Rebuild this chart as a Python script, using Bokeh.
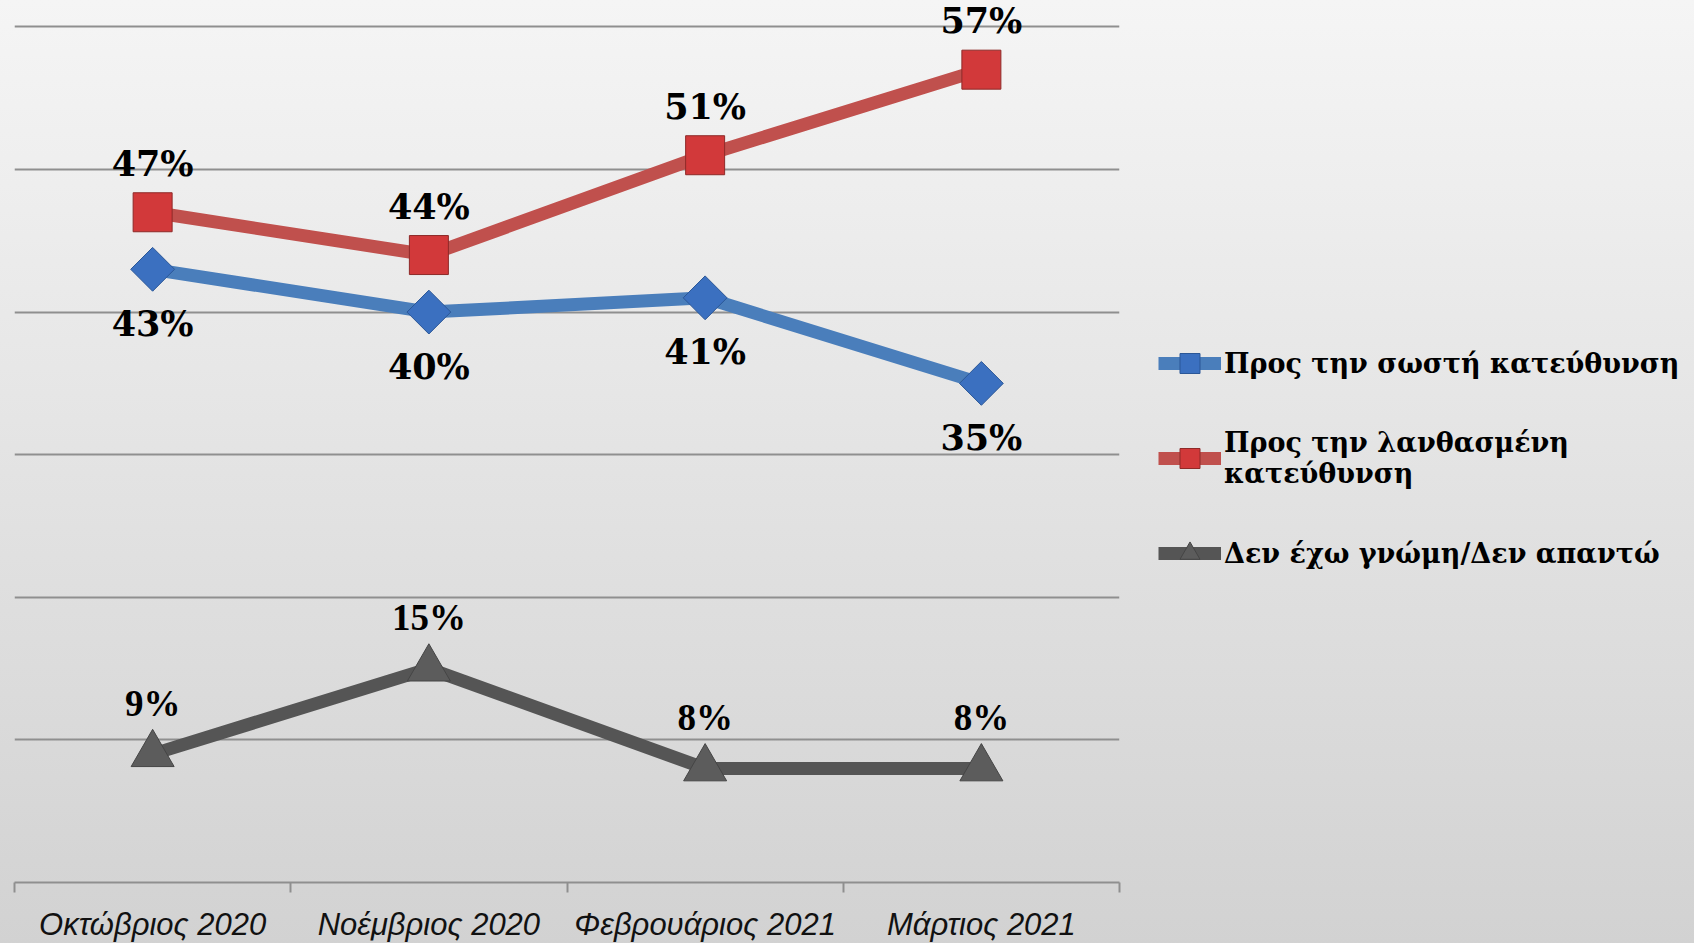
from bokeh.plotting import figure
from bokeh.models import Range1d, FixedTicker, Legend, LegendItem, ColumnDataSource, Grid
from bokeh.embed import file_html
from bokeh.resources import INLINE
from bokeh.core.properties import value

# ---- data ----
categories = ["Οκτώβριος 2020", "Νοέμβριος 2020", "Φεβρουάριος 2021", "Μάρτιος 2021"]
right_dir = [43, 40, 41, 35]
wrong_dir = [47, 44, 51, 57]
no_opinion = [9, 15, 8, 8]
series_names = ["Προς την σωστή κατεύθυνση",
                "Προς την λανθασμένη\nκατεύθυνση",
                "Δεν έχω γνώμη/Δεν απαντώ"]
y_ticks = [0, 10, 20, 30, 40, 50, 60]

xs = [i + 0.5 for i in range(len(categories))]
bounds = [float(i) for i in range(len(categories) + 1)]

def src(vals):
    return ColumnDataSource(dict(x=xs, y=vals, lbl=[f"{v}%" for v in vals]))

s_right, s_wrong, s_none = src(right_dir), src(wrong_dir), src(no_opinion)

p = figure(frame_width=1105, frame_height=882,
           x_range=Range1d(0, len(categories)), y_range=Range1d(0, 61.85),
           y_axis_location=None, output_backend="svg", toolbar_location=None,
           min_border_left=14, min_border_right=0, min_border_top=0, min_border_bottom=0)
p.styles = {"background": "linear-gradient(to bottom, #f5f5f5 0%, #e3e3e3 50%, #d2d2d2 100%)"}
p.background_fill_alpha = 0
p.border_fill_alpha = 0
p.outline_line_color = None
p.xgrid.visible = False

p.add_layout(Grid(dimension=1, ticker=FixedTicker(ticks=y_ticks),
                  grid_line_color="#8f8f8f", grid_line_width=2))

ax = p.xaxis[0]
ax.ticker = FixedTicker(ticks=xs, minor_ticks=bounds)
ax.major_label_overrides = {x: c for x, c in zip(xs, categories)}
ax.axis_line_color = "#8f8f8f"
ax.axis_line_width = 2
ax.major_tick_line_color = None
ax.major_tick_out = 0
ax.major_tick_in = 0
ax.minor_tick_line_color = "#8f8f8f"
ax.minor_tick_line_width = 2
ax.minor_tick_out = 10
ax.minor_tick_in = 0
ax.major_label_standoff = 14
ax.major_label_text_font = "Liberation Sans"
ax.major_label_text_font_style = "italic"
ax.major_label_text_font_size = "31px"
ax.major_label_text_color = "#111111"

# ---- series ----
g_line = p.line("x", "y", source=s_none, line_color="#555555", line_width=13, line_join="round")
g_pts = p.scatter("x", "y", source=s_none, marker="triangle", size=43,
                  fill_color="#5c5c5c", line_color="#454545", line_width=1)
b_line = p.line("x", "y", source=s_right, line_color="#4a7ebb", line_width=13, line_join="round")
b_pts = p.scatter("x", "y", source=s_right, marker="square", angle=0.785398, size=31,
                  fill_color="#3b70c0", line_color="#2b5797", line_width=1)
r_line = p.line("x", "y", source=s_wrong, line_color="#c0504d", line_width=13, line_join="round")
r_pts = p.scatter("x", "y", source=s_wrong, marker="square", size=39,
                  fill_color="#d2393a", line_color="#8e2a28", line_width=1)

# ---- data labels ----
p.text("x", "y", text="lbl", source=s_wrong, y_offset=-49, text_align="center",
       text_baseline="middle", text_font=value("DejaVu Serif"), text_font_style="bold",
       text_font_size="35px", text_color="#000000")
p.text("x", "y", text="lbl", source=s_right, y_offset=54, text_align="center",
       text_baseline="middle", text_font=value("DejaVu Serif"), text_font_style="bold",
       text_font_size="35px", text_color="#000000")
p.text("x", "y", text="lbl", source=s_none, y_offset=-51, text_align="center",
       text_baseline="middle", text_font=value("Liberation Serif"), text_font_style="bold",
       text_font_size="37px", text_color="#000000")

# ---- legend ----
items = [LegendItem(label=series_names[0], renderers=[b_line, b_pts]),
         LegendItem(label=series_names[1], renderers=[r_line, r_pts]),
         LegendItem(label=series_names[2], renderers=[g_line, g_pts])]
lg = Legend(items=items, location=(39, 304), padding=0, margin=20, spacing=39,
            glyph_width=63, glyph_height=50, label_standoff=3,
            border_line_alpha=0, background_fill_alpha=0,
            label_text_font="DejaVu Serif", label_text_font_style="bold",
            label_text_font_size="27px", label_text_color="#000000",
            label_text_line_height=1.45)
p.add_layout(lg, "right")

open("out.html", "w").write(file_html(p, INLINE))
